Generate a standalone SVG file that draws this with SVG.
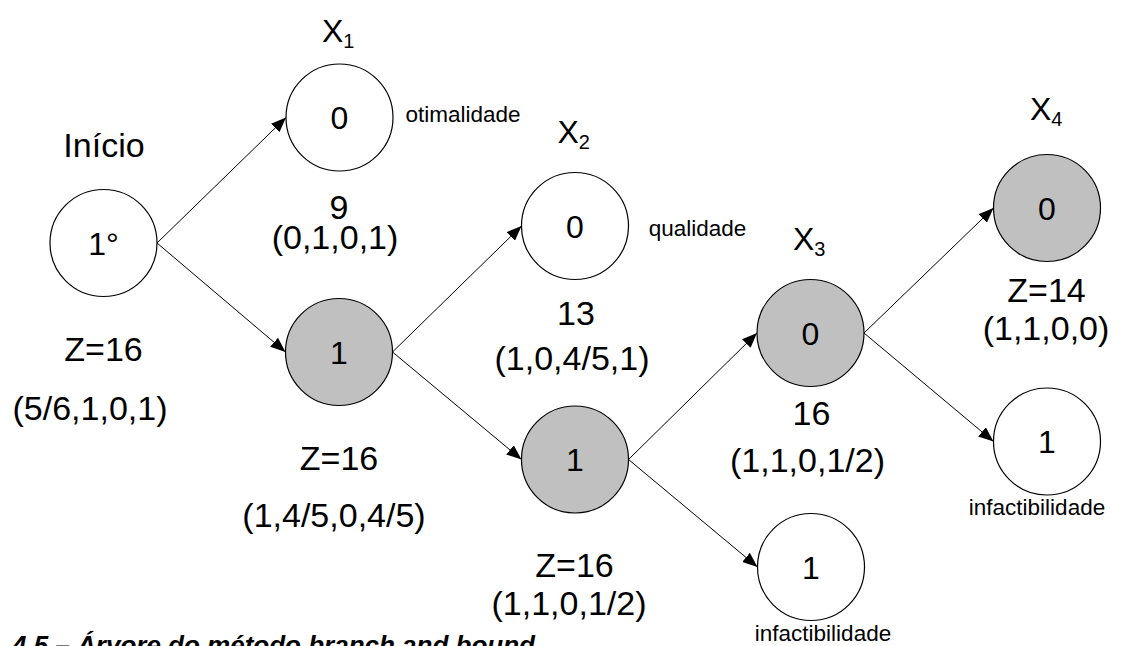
<svg xmlns="http://www.w3.org/2000/svg" width="1122" height="646" viewBox="0 0 1122 646">
  <style>
    .node circle { stroke: #000; stroke-width: 1.2; fill: #fff; }
    .node.sel circle { fill: #c0c0c0; }
    text { font-family: "Liberation Sans", Arial, sans-serif; fill: #000; }
    .nl { font-size: 32px; text-anchor: middle; }
    .ann { font-size: 34px; text-anchor: middle; }
    .var { font-size: 32px; }
    .sub { font-size: 20px; }
    .note { font-size: 22.5px; text-anchor: middle; }
    .cap { font-size: 26px; font-style: italic; font-weight: bold; }
    .edge { stroke: #000; stroke-width: 1; fill: none; marker-end: url(#arrow); }
  </style>
  <defs>
    <marker id="arrow" viewBox="0 0 15 12" refX="15" refY="6" markerWidth="15" markerHeight="12" markerUnits="userSpaceOnUse" orient="auto">
      <path d="M0,0 L15,6 L0,12 Z" fill="#000"/>
    </marker>
  </defs>
  <rect width="1122" height="646" fill="#fff"/>

  <!-- branch connectors -->
  <g id="edges">
    <line class="edge" x1="157" y1="243" x2="286" y2="117.5"/>
    <line class="edge" x1="157" y1="243" x2="285.5" y2="352"/>
    <line class="edge" x1="392.5" y1="352" x2="521.5" y2="226"/>
    <line class="edge" x1="392.5" y1="352" x2="521.5" y2="459.5"/>
    <line class="edge" x1="628.5" y1="459.5" x2="757" y2="333"/>
    <line class="edge" x1="628.5" y1="459.5" x2="757.5" y2="567"/>
    <line class="edge" x1="864" y1="333" x2="993.5" y2="208"/>
    <line class="edge" x1="864" y1="333" x2="993.5" y2="441.5"/>
  </g>

  <!-- root -->
  <g id="start" class="node">
    <circle cx="103.5" cy="243" r="53.5"/>
    <text class="nl" x="103.5" y="254.5">1°</text>
  </g>
  <g id="x1-0" class="node">
    <circle cx="339.5" cy="117.5" r="53.5"/>
    <text class="nl" x="339.5" y="129">0</text>
  </g>
  <g id="x1-1" class="node sel">
    <circle cx="339" cy="352" r="53.5"/>
    <text class="nl" x="339" y="363.5">1</text>
  </g>
  <g id="x2-0" class="node">
    <circle cx="575" cy="226" r="53.5"/>
    <text class="nl" x="575" y="237.5">0</text>
  </g>
  <g id="x2-1" class="node sel">
    <circle cx="575" cy="459.5" r="53.5"/>
    <text class="nl" x="575" y="471">1</text>
  </g>
  <g id="x3-0" class="node sel">
    <circle cx="810.5" cy="333" r="53.5"/>
    <text class="nl" x="810.5" y="344.5">0</text>
  </g>
  <g id="x3-1" class="node">
    <circle cx="811" cy="567" r="53.5"/>
    <text class="nl" x="811" y="578.5">1</text>
  </g>
  <g id="x4-0" class="node sel">
    <circle cx="1047" cy="208" r="53.5"/>
    <text class="nl" x="1047" y="219.5">0</text>
  </g>
  <g id="x4-1" class="node">
    <circle cx="1047" cy="441.5" r="53.5"/>
    <text class="nl" x="1047" y="453">1</text>
  </g>

  <!-- level headings -->
  <g id="labels">
    <text class="ann" x="104" y="157">Início</text>
    <text class="var" x="322" y="42">X<tspan class="sub" dy="5.5">1</tspan></text>
    <text class="var" x="557.5" y="143">X<tspan class="sub" dy="5.5">2</tspan></text>
    <text class="var" x="793" y="250">X<tspan class="sub" dy="5.5">3</tspan></text>
    <text class="var" x="1030" y="120">X<tspan class="sub" dy="5.5">4</tspan></text>

    <!-- bounds and LP solutions -->
    <text class="ann" x="103.5" y="361">Z=16</text>
    <text class="ann" x="90" y="420">(5/6,1,0,1)</text>
    <text class="ann" x="339" y="219">9</text>
    <text class="ann" x="335" y="249">(0,1,0,1)</text>
    <text class="ann" x="339" y="470">Z=16</text>
    <text class="ann" x="334" y="527">(1,4/5,0,4/5)</text>
    <text class="ann" x="576" y="325">13</text>
    <text class="ann" x="572" y="370">(1,0,4/5,1)</text>
    <text class="ann" x="574.5" y="577">Z=16</text>
    <text class="ann" x="569" y="615">(1,1,0,1/2)</text>
    <text class="ann" x="811.5" y="425">16</text>
    <text class="ann" x="807.5" y="471.5">(1,1,0,1/2)</text>
    <text class="ann" x="1046.5" y="301.5">Z=14</text>
    <text class="ann" x="1046" y="340">(1,1,0,0)</text>

    <!-- pruning reasons -->
    <text class="note" x="463" y="121.5">otimalidade</text>
    <text class="note" x="697.5" y="236">qualidade</text>
    <text class="note" x="1037" y="515">infactibilidade</text>
    <text class="note" x="823" y="641">infactibilidade</text>

    <text class="cap" x="12" y="654">4.5 – Árvore do método branch and bound</text>
  </g>
</svg>
